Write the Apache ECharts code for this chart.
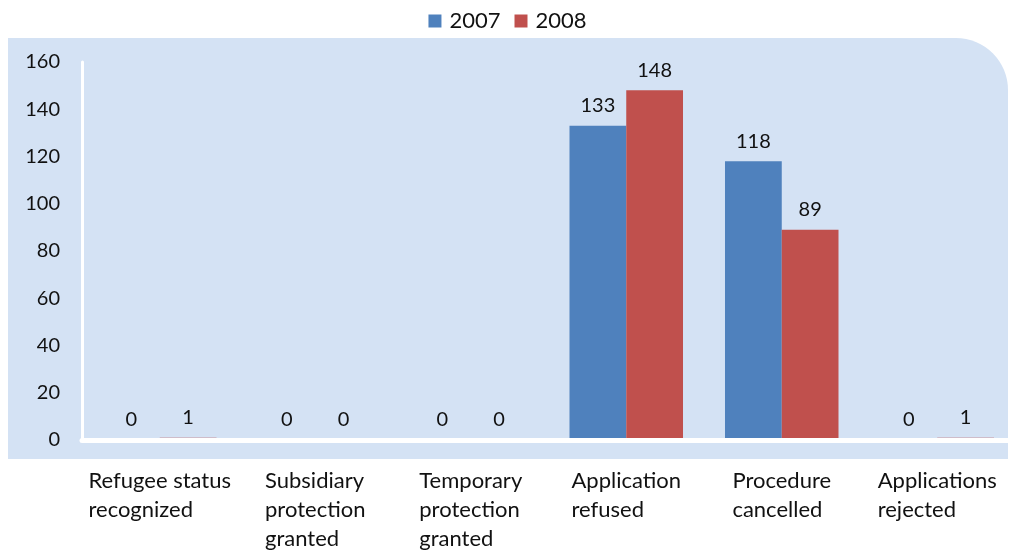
<!DOCTYPE html>
<html>
<head>
<meta charset="utf-8">
<script src="https://cdn.jsdelivr.net/npm/echarts@6/dist/echarts.min.js"></script>
<style>
  html, body { margin: 0; padding: 0; background: #ffffff; }
  #chart { width: 1015px; height: 552px; }
</style>
</head>
<body>
<div id="chart"></div>
<script>
// Asylum decisions by outcome, 2007 vs 2008
const categories = [
  'Refugee status\nrecognized',
  'Subsidiary\nprotection\ngranted',
  'Temporary\nprotection\ngranted',
  'Application\nrefused',
  'Procedure\ncancelled',
  'Applications\nrejected'
];
const seriesNames = ['2007', '2008'];
const values2007 = [0, 0, 0, 133, 118, 0];
const values2008 = [1, 0, 0, 148, 89, 1];
const yTicks = { min: 0, max: 160, interval: 20 };

const FONT = 'Lato, "Noto Sans", sans-serif';
const TEXT = '#111111';

const chart = echarts.init(document.getElementById('chart'), null, { renderer: 'canvas' });

// Category labels: each line left-aligned inside a block centred on the tick
function wrapLines(value) {
  return value.split('\n').map(s => '{l|' + s + '}').join('\n');
}

chart.setOption({
  animation: false,
  textStyle: { fontFamily: FONT },
  graphic: [{
    type: 'rect',
    z: -10,
    silent: true,
    shape: { x: 8, y: 38, width: 1000, height: 421, r: [0, 52, 0, 0] },
    style: { fill: '#D4E2F4' }
  }],
  legend: {
    top: 5,
    left: 'center',
    itemWidth: 13,
    itemHeight: 13,
    itemGap: 14,
    icon: 'rect',
    textStyle: { fontSize: 22, color: TEXT, fontFamily: FONT, padding: [0, 0, 0, 3] },
    data: seriesNames
  },
  grid: { left: 82, right: -6, top: 62, bottom: 112, containLabel: false },
  xAxis: {
    type: 'category',
    data: categories,
    z: 10,
    axisLine: { show: true, lineStyle: { color: '#ffffff', width: 5 } },
    axisTick: { show: false },
    axisLabel: {
      interval: 0,
      margin: 26,
      align: 'center',
      verticalAlign: 'top',
      formatter: wrapLines,
      rich: {
        l: { align: 'left', fontSize: 22, lineHeight: 29, color: TEXT, fontFamily: FONT }
      }
    },
    splitLine: { show: false }
  },
  yAxis: {
    type: 'value',
    min: yTicks.min,
    max: yTicks.max,
    interval: yTicks.interval,
    z: 10,
    axisLine: { show: true, lineStyle: { color: '#ffffff', width: 3 } },
    axisTick: { show: false },
    splitLine: { show: false },
    axisLabel: { margin: 22, fontSize: 20, color: TEXT, fontFamily: FONT }
  },
  series: [
    {
      name: seriesNames[0],
      type: 'bar',
      data: values2007,
      barGap: '0%',
      barCategoryGap: '27%',
      itemStyle: { color: '#4F81BD' },
      label: { show: true, position: 'top', distance: 10, fontSize: 20, color: TEXT, fontFamily: FONT }
    },
    {
      name: seriesNames[1],
      type: 'bar',
      data: values2008,
      barGap: '0%',
      barCategoryGap: '27%',
      itemStyle: { color: '#C0504D' },
      label: { show: true, position: 'top', distance: 10, fontSize: 20, color: TEXT, fontFamily: FONT }
    }
  ]
});
</script>
</body>
</html>
